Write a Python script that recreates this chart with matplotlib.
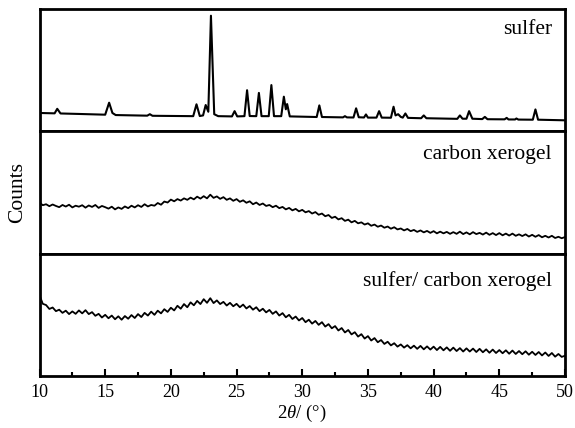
import numpy as np
import matplotlib
matplotlib.use('Agg')
import matplotlib.pyplot as plt
from matplotlib.ticker import MultipleLocator

plt.rcParams['font.family'] = ['Liberation Serif', 'DejaVu Serif']
plt.rcParams['mathtext.fontset'] = 'custom'
plt.rcParams['mathtext.rm'] = 'Liberation Serif'
plt.rcParams['mathtext.it'] = 'Liberation Serif:italic'

# --- sulfer pattern: vertices (2theta, counts) --- #
sulfer_2theta = [10.0, 11.15, 11.35, 11.6, 13.0, 15.0, 15.3, 15.55, 15.8, 18.2, 18.4, 18.6,
                 21.7, 21.95, 22.2, 22.45, 22.65, 22.85, 23.05, 23.3, 23.6, 24.65, 24.85, 25.05,
                 25.6, 25.8, 26.0, 26.5, 26.7, 26.9, 27.45, 27.65, 27.85, 28.4, 28.6, 28.75,
                 28.85, 29.05, 31.1, 31.3, 31.5, 33.1, 33.25, 33.4, 33.9, 34.1, 34.3, 34.7,
                 34.85, 35.0, 35.65, 35.85, 36.05, 36.75, 36.95, 37.1, 37.3, 37.5, 37.65, 37.85,
                 38.05, 39.05, 39.25, 39.45, 41.8, 42.0, 42.2, 42.5, 42.7, 42.95, 43.7, 43.9,
                 44.1, 45.4, 45.56, 45.7, 46.2, 46.3, 46.45, 47.55, 47.75, 47.95, 50.0]
sulfer_counts = [150, 147, 184, 146, 142, 136, 234, 150, 133, 128, 140, 127,
                 124, 221, 125, 130, 215, 160, 945, 140, 124, 122, 165, 122,
                 124, 336, 125, 124, 314, 124, 124, 378, 124, 124, 283, 180,
                 223, 122, 117, 212, 117, 114, 124, 114, 113, 188, 115, 113,
                 138, 112, 112, 165, 112, 111, 201, 130, 140, 118, 112, 146,
                 110, 107, 130, 107, 102, 130, 103, 103, 165, 103, 100, 118,
                 99, 98, 110, 97, 97, 105, 96, 95, 179, 95, 90]

# --- amorphous patterns, read every 0.25 degree from 10 to 50 (one row = 2 degrees) --- #
xerogel_counts = [418, 396, 404, 388, 402, 390, 380, 398,
                  385, 400, 378, 392, 384, 396, 376, 394,
                  382, 398, 374, 390, 380, 368, 384, 362,
                  378, 366, 386, 372, 392, 378, 396, 382,
                  404, 386, 398, 392, 414, 400, 426, 418,
                  442, 428, 446, 434, 452, 440, 458, 444,
                  466, 450, 470, 452, 482, 456, 468, 448,
                  462, 440, 452, 432, 446, 424, 436, 416,
                  428, 404, 418, 398, 410, 390, 398, 380,
                  392, 372, 382, 362, 374, 354, 366, 346,
                  358, 338, 348, 328, 340, 318, 328, 306,
                  316, 292, 302, 280, 290, 268, 278, 256,
                  268, 248, 256, 238, 248, 228, 238, 220,
                  230, 212, 222, 204, 216, 198, 206, 190,
                  202, 184, 194, 178, 190, 174, 186, 170,
                  184, 166, 180, 166, 178, 162, 176, 162,
                  180, 160, 174, 158, 176, 160, 170, 156,
                  172, 154, 168, 152, 168, 150, 164, 148,
                  164, 146, 158, 144, 158, 140, 154, 138,
                  152, 134, 146, 132, 146, 128, 138, 126,
                  136]
composite_counts = [660, 590, 580, 548, 560, 530, 542, 516,
                    534, 506, 528, 508, 536, 512, 538, 506,
                    522, 492, 508, 478, 500, 472, 494, 464,
                    488, 460, 490, 468, 498, 474, 506, 482,
                    516, 494, 526, 500, 534, 512, 546, 524,
                    558, 536, 574, 550, 588, 562, 602, 578,
                    614, 588, 628, 598, 636, 596, 618, 588,
                    606, 576, 598, 570, 590, 562, 584, 552,
                    572, 542, 562, 530, 550, 520, 540, 508,
                    528, 494, 514, 480, 500, 466, 486, 454,
                    474, 440, 460, 428, 450, 418, 440, 404,
                    424, 390, 408, 372, 392, 356, 376, 340,
                    358, 322, 342, 306, 326, 290, 310, 276,
                    294, 262, 280, 250, 268, 240, 258, 232,
                    252, 226, 248, 222, 246, 218, 242, 216,
                    240, 212, 238, 210, 234, 206, 232, 204,
                    228, 200, 226, 200, 224, 196, 222, 194,
                    218, 190, 216, 188, 212, 186, 210, 182,
                    208, 180, 204, 178, 202, 174, 198, 172,
                    196, 168, 192, 164, 188, 158, 180, 156,
                    166]
theta_grid = np.linspace(10, 50, len(xerogel_counts))

panel_labels = ['sulfer', 'carbon xerogel', 'sulfer/ carbon xerogel']
label_y = [0.83, 0.81, 0.78]
xticks = [10, 15, 20, 25, 30, 35, 40, 45, 50]

fig, axes = plt.subplots(3, 1, sharex=True, figsize=(5.75, 4.28), dpi=100)
fig.subplots_adjust(left=0.0687, right=0.9826, bottom=0.1215, top=0.979, hspace=0)

series = [(sulfer_2theta, sulfer_counts, 1.5),
          (theta_grid, xerogel_counts, 1.3),
          (theta_grid, composite_counts, 1.3)]
for ax, (x, y, lw), lab, ly in zip(axes, series, panel_labels, label_y):
    ax.plot(x, y, color='black', lw=lw)
    ax.set_xlim(10, 50)
    ax.set_ylim(0, 1000)
    ax.set_yticks([])
    for sp in ax.spines.values():
        sp.set_linewidth(2.0)
    ax.tick_params(axis='x', which='both', bottom=False, labelbottom=False)
    ax.text(0.975, ly, lab, transform=ax.transAxes, ha='right', va='center', fontsize=15.5)

ax = axes[-1]
ax.set_xticks(xticks)
ax.xaxis.set_minor_locator(MultipleLocator(2.5))
ax.tick_params(axis='x', which='major', bottom=True, labelbottom=True, direction='in',
               length=5, width=1.5, labelsize=13, pad=6)
ax.tick_params(axis='x', which='minor', bottom=True, direction='in', length=3, width=1.5)
ax.set_xlabel(r'2$\theta$/ (°)', fontsize=13.5, labelpad=1)

fig.text(0.03, 0.55, 'Counts', rotation=90, ha='center', va='center', fontsize=15.5)

plt.savefig('out.png', dpi=100)
